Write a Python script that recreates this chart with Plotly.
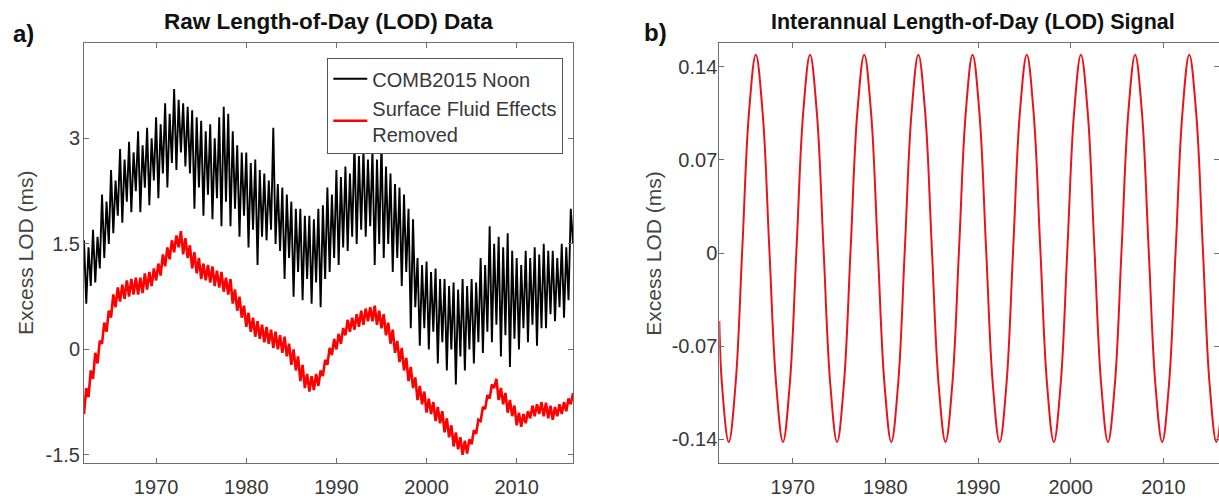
import plotly.graph_objects as go

# ---- panel a: raw excess LOD (ms), four readings per year (Jan, Apr, Jul, Oct)
lod_years = list(range(1962, 2017))

comb2015_noon = [
    [1.55, 0.65, 1.45, 0.90],  # 1962
    [1.70, 0.95, 1.60, 1.15],
    [2.20, 1.30, 2.10, 1.50],
    [2.55, 1.65, 2.40, 1.90],
    [2.85, 1.80, 2.70, 2.10],
    [2.95, 1.95, 2.80, 2.25],
    [3.10, 1.95, 2.90, 2.30],
    [3.15, 2.05, 3.00, 2.40],
    [3.30, 2.15, 3.20, 2.50],  # 1970
    [3.50, 2.30, 3.35, 2.65],
    [3.70, 2.55, 3.55, 2.80],
    [3.50, 2.60, 3.45, 2.50],
    [3.40, 2.00, 3.30, 2.30],
    [3.25, 1.90, 3.10, 2.20],
    [3.20, 1.85, 3.00, 2.15],
    [3.30, 1.75, 3.45, 2.10],
    [3.35, 1.75, 3.10, 2.00],
    [2.90, 1.60, 2.80, 1.90],
    [2.80, 1.45, 2.65, 1.70],  # 1980
    [2.70, 1.20, 2.55, 1.60],
    [2.50, 1.55, 2.40, 1.70],
    [3.15, 1.50, 2.35, 1.40],
    [2.30, 1.00, 2.20, 1.30],
    [2.10, 0.75, 2.00, 1.10],
    [2.00, 0.70, 1.90, 1.00],
    [1.90, 0.65, 1.85, 0.95],
    [2.00, 0.60, 2.05, 1.00],
    [2.30, 1.10, 2.20, 1.30],
    [2.55, 1.20, 2.45, 1.45],  # 1990
    [2.60, 1.40, 2.50, 1.60],
    [2.95, 1.50, 2.75, 1.70],
    [2.85, 1.60, 2.70, 1.75],
    [2.85, 1.20, 2.70, 1.50],
    [2.95, 1.30, 2.60, 1.50],
    [2.50, 1.10, 2.35, 1.30],
    [2.30, 0.90, 2.20, 1.10],
    [2.00, 0.30, 1.85, 0.60],
    [1.30, 0.05, 1.20, 0.30],
    [1.25, 0.00, 1.10, 0.25],  # 2000
    [1.15, -0.20, 1.00, 0.10],
    [1.00, -0.30, 0.90, 0.00],
    [0.95, -0.50, 0.85, -0.10],
    [1.00, -0.30, 0.90, 0.00],
    [1.00, -0.20, 0.95, 0.10],
    [1.30, -0.05, 1.20, 0.25],
    [1.75, 0.10, 1.50, 0.35],
    [1.60, -0.10, 1.45, 0.20],
    [1.65, -0.25, 1.40, 0.15],
    [1.30, 0.00, 1.20, 0.30],  # 2010
    [1.40, 0.10, 1.30, 0.35],
    [1.45, 0.05, 1.35, 0.30],
    [1.50, 0.30, 1.40, 0.50],
    [1.40, 0.40, 1.30, 0.60],
    [1.50, 0.45, 1.45, 0.70],
    [2.00, 1.50],  # 2016
]

fluid_removed = [
    [-0.92, -0.55, -0.68, -0.30],  # 1962
    [-0.42, -0.05, -0.20, 0.12],
    [0.08, 0.38, 0.25, 0.55],
    [0.45, 0.78, 0.60, 0.88],
    [0.68, 0.92, 0.72, 0.98],
    [0.75, 1.00, 0.78, 1.02],
    [0.78, 1.02, 0.80, 1.08],
    [0.85, 1.10, 0.90, 1.15],
    [0.98, 1.22, 1.05, 1.35],  # 1970
    [1.18, 1.45, 1.28, 1.55],
    [1.38, 1.62, 1.45, 1.68],
    [1.35, 1.58, 1.30, 1.48],
    [1.15, 1.38, 1.08, 1.30],
    [1.00, 1.22, 0.98, 1.20],
    [0.95, 1.18, 0.90, 1.12],
    [0.88, 1.10, 0.82, 1.02],
    [0.78, 1.00, 0.65, 0.85],
    [0.55, 0.75, 0.45, 0.62],
    [0.32, 0.52, 0.25, 0.45],  # 1980
    [0.18, 0.40, 0.15, 0.35],
    [0.10, 0.32, 0.08, 0.28],
    [0.02, 0.25, 0.00, 0.20],
    [-0.05, 0.18, -0.10, 0.08],
    [-0.22, 0.00, -0.30, -0.10],
    [-0.45, -0.22, -0.55, -0.35],
    [-0.60, -0.38, -0.58, -0.35],
    [-0.52, -0.30, -0.38, -0.15],
    [-0.22, 0.02, -0.08, 0.15],
    [0.00, 0.22, 0.08, 0.30],  # 1990
    [0.20, 0.42, 0.25, 0.45],
    [0.28, 0.50, 0.32, 0.55],
    [0.35, 0.58, 0.40, 0.60],
    [0.40, 0.62, 0.35, 0.55],
    [0.30, 0.50, 0.20, 0.38],
    [0.08, 0.28, -0.05, 0.12],
    [-0.18, 0.02, -0.30, -0.12],
    [-0.45, -0.25, -0.55, -0.40],
    [-0.72, -0.52, -0.78, -0.60],
    [-0.90, -0.70, -0.92, -0.75],  # 2000
    [-1.02, -0.82, -1.05, -0.88],
    [-1.18, -0.98, -1.25, -1.08],
    [-1.38, -1.18, -1.42, -1.25],
    [-1.50, -1.30, -1.48, -1.28],
    [-1.35, -1.15, -1.20, -1.00],
    [-1.02, -0.82, -0.85, -0.65],
    [-0.70, -0.50, -0.55, -0.42],
    [-0.72, -0.55, -0.78, -0.62],
    [-0.90, -0.72, -0.95, -0.80],
    [-1.08, -0.90, -1.10, -0.92],  # 2010
    [-1.05, -0.88, -0.98, -0.80],
    [-0.95, -0.78, -0.92, -0.75],
    [-0.95, -0.76, -0.98, -0.80],
    [-1.00, -0.82, -0.95, -0.78],
    [-0.92, -0.75, -0.88, -0.70],
    [-0.78, -0.62],  # 2016
]

# ---- panel b: interannual LOD signal (ms), read at every eighth of a cycle
signal_years = [
    1962.08, 1962.37, 1963.10, 1963.83, 1964.56, 1965.29, 1966.02, 1966.75, 1967.48, 1968.22,
    1968.95, 1969.68, 1970.41, 1971.14, 1971.87, 1972.60, 1973.33, 1974.06, 1974.79, 1975.52,
    1976.25, 1976.98, 1977.72, 1978.45, 1979.18, 1979.91, 1980.64, 1981.37, 1982.10, 1982.83,
    1983.56, 1984.29, 1985.02, 1985.75, 1986.49, 1987.22, 1987.95, 1988.68, 1989.41, 1990.14,
    1990.87, 1991.60, 1992.33, 1993.06, 1993.79, 1994.52, 1995.26, 1995.99, 1996.72, 1997.45,
    1998.18, 1998.91, 1999.64, 2000.37, 2001.10, 2001.83, 2002.56, 2003.29, 2004.02, 2004.76,
    2005.49, 2006.22, 2006.95, 2007.68, 2008.41, 2009.14, 2009.87, 2010.60, 2011.33, 2012.06,
    2012.79, 2013.53, 2014.26, 2014.99, 2015.72, 2016.30,
]
signal_values = [
    -0.051, -0.099,
    -0.142, -0.099, 0.003, 0.106, 0.149, 0.106, 0.003, -0.099,
    -0.142, -0.099, 0.003, 0.106, 0.149, 0.106, 0.003, -0.099,
    -0.142, -0.099, 0.003, 0.106, 0.149, 0.106, 0.003, -0.099,
    -0.142, -0.099, 0.003, 0.106, 0.149, 0.106, 0.003, -0.099,
    -0.142, -0.099, 0.003, 0.106, 0.149, 0.106, 0.003, -0.099,
    -0.142, -0.099, 0.003, 0.106, 0.149, 0.106, 0.003, -0.099,
    -0.142, -0.099, 0.003, 0.106, 0.149, 0.106, 0.003, -0.099,
    -0.142, -0.099, 0.003, 0.106, 0.149, 0.106, 0.003, -0.099,
    -0.142, -0.099, 0.003, 0.106, 0.149, 0.106, 0.003, -0.099,
    -0.142, -0.114,
]

x_ticks = [1970, 1980, 1990, 2000, 2010]
a_ticks = [-1.5, 0, 1.5, 3]
a_ticklabels = ["-1.5", "0", "1.5", "3"]
b_ticks = [-0.14, -0.07, 0, 0.07, 0.14]
b_ticklabels = ["-0.14", "-0.07", "0", "0.07", "0.14"]


def quarterly(rows):
    xs, ys = [], []
    for yr, row in zip(lod_years, rows):
        for i, v in enumerate(row):
            xs.append(yr + 0.25 * i)
            ys.append(v)
    return xs, ys


FONT = "Liberation Sans, Arial, Helvetica, sans-serif"
W, H = 1219, 504

fig = go.Figure()

bx, by = quarterly(comb2015_noon)
rx, ry = quarterly(fluid_removed)
fig.add_trace(go.Scatter(x=bx, y=by, mode="lines", name="COMB2015 Noon",
                         line=dict(color="black", width=1.9), xaxis="x", yaxis="y"))
fig.add_trace(go.Scatter(x=rx, y=ry, mode="lines", name="Surface Fluid Effects<br>Removed",
                         line=dict(color="#ff0000", width=2.6), xaxis="x", yaxis="y"))
fig.add_trace(go.Scatter(x=signal_years, y=signal_values, mode="lines", showlegend=False,
                         line=dict(color="#e8141c", width=2, shape="spline", smoothing=1.1),
                         xaxis="x2", yaxis="y2"))

ydom = [1 - 463.3 / H, 1 - 42.7 / H]
axis_style = dict(showline=True, mirror="ticks", linecolor="#6e6e6e", linewidth=1,
                  ticks="inside", ticklen=5, tickcolor="#6e6e6e", showgrid=False,
                  zeroline=False, automargin=False,
                  tickfont=dict(family=FONT, size=20, color="#383838"))

fig.update_layout(
    width=W, height=H,
    margin=dict(l=0, r=0, t=0, b=0),
    paper_bgcolor="white", plot_bgcolor="white",
    font=dict(family=FONT, color="#383838"),
    xaxis=dict(domain=[84 / W, 573.3 / W], range=[1962, 2016.28],
               tickvals=x_ticks, ticklabelstandoff=6, **axis_style),
    yaxis=dict(domain=ydom, range=[-1.62, 4.36], tickvals=a_ticks,
               ticktext=a_ticklabels, ticklabelstandoff=-1, **axis_style),
    xaxis2=dict(domain=[719.3 / W, 1.0], range=[1962.08, 2016.0], anchor="y2",
                tickvals=x_ticks, ticklabelstandoff=6, **axis_style),
    yaxis2=dict(domain=ydom, range=[-0.158, 0.158], anchor="x2", tickvals=b_ticks,
                ticktext=b_ticklabels, ticklabelstandoff=-3, **axis_style),
    legend=dict(x=563.3 / W, xanchor="right", y=1 - 58.3 / H, yanchor="top",
                bgcolor="white", bordercolor="#555555", borderwidth=1,
                font=dict(family=FONT, size=20, color="#383838"),
                itemwidth=34, tracegroupgap=0),
    showlegend=True,
)

annotations = [
    dict(text="<b>Raw Length-of-Day (LOD) Data</b>", x=328.7 / W, y=1 - 22 / H,
         font=dict(size=22.5, color="#111111")),
    dict(text="<b>Interannual Length-of-Day (LOD) Signal</b>", x=972.8 / W, y=1 - 22 / H,
         font=dict(size=21.5, color="#111111")),
    dict(text="<b>a)</b>", x=23 / W, y=1 - 34 / H, font=dict(size=24, color="#111111")),
    dict(text="<b>b)</b>", x=655 / W, y=1 - 32 / H, font=dict(size=24, color="#111111")),
    dict(text="Excess LOD (ms)", x=25 / W, y=1 - 253 / H, textangle=-90,
         font=dict(size=21, color="#444444")),
    dict(text="Excess LOD (ms)", x=652.7 / W, y=1 - 253 / H, textangle=-90,
         font=dict(size=21, color="#444444")),
]
for a in annotations:
    a.update(xref="paper", yref="paper", showarrow=False, xanchor="center", yanchor="middle")
    a["font"]["family"] = FONT
fig.update_layout(annotations=annotations)

# the page's default body margin would push the figure 8px right and down
fig.write_html("out.html", config={"displayModeBar": False},
               post_script="document.body.style.margin='0';")
